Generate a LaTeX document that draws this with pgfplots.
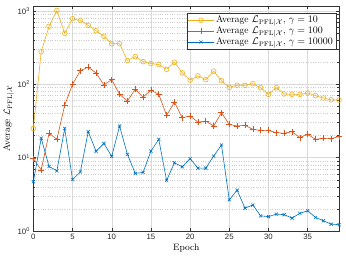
\documentclass[border=0pt]{standalone}
\usepackage{fontspec}
\usepackage{pgfplots}
\pgfplotsset{compat=1.18}
\newfontfamily\hv{Liberation Sans}
\definecolor{myyellow}{rgb}{0.929,0.694,0.125}
\definecolor{myred}{rgb}{0.850,0.325,0.098}
\definecolor{myblue}{rgb}{0,0.447,0.741}
\begin{document}
\begin{tikzpicture}
\begin{axis}[
  scale only axis, width=307pt, height=226pt,
  ymode=log, xmin=0, xmax=39, ymin=1, ymax=1170,
  xtick={0,5,...,35},
  ytick={1,10,100,1000},
  yticklabels={10\textsuperscript{0},10\textsuperscript{1},10\textsuperscript{2},10\textsuperscript{3}},
  minor x tick num=0,
  grid=both,
  major grid style={black!15, line width=0.4pt},
  minor grid style={black!20, dotted, line width=0.4pt},
  axis line style={black!80, line width=0.4pt},
  tick style={black!80, line width=0.4pt},
  tick align=inside,
  major tick length=3pt, minor tick length=1.6pt,
  /pgf/number format/assume math mode=true,
  every tick label/.append style={font=\hv\fontsize{7.8}{9}\selectfont, black!85},
  xlabel={Epoch},
  ylabel={Average $\mathcal{L}_{\mathrm{PFL}|\mathcal{X}}$},
  label style={font=\fontsize{9.3}{10.5}\selectfont},
  xlabel style={yshift=3pt},
  ylabel style={yshift=-3pt},
  legend cell align=left,
  legend style={at={(1,1)}, anchor=north east, xshift=-3pt, yshift=-7pt,
    font=\fontsize{9.6}{10.5}\selectfont, draw=black!80, line width=0.4pt,
    inner sep=1pt, row sep=-1.5pt},
  legend image code/.code={
    \draw[mark repeat=2,mark phase=2] plot coordinates {(0cm,0cm)(0.45cm,0cm)(0.9cm,0cm)};},
]
\addplot[myyellow, line width=0.6pt, mark=o, mark size=2.4pt] coordinates {
(0,25)(1,277)(2,617)(3,1016)(4,495)(5,783)(6,743)(7,635)(8,538)(9,451)
(10,358)(11,358)(12,211)(13,239)(14,204)(15,192)(16,186)(17,160)(18,200)(19,143)
(20,114)(21,130)(22,116)(23,151)(24,112)(25,91)(26,97)(27,97)(28,102)(29,90)
(30,73)(31,90)(32,74)(33,73)(34,73)(35,76)(36,70)(37,65)(38,61.5)(39,61)};
\addlegendentry{Average $\mathcal{L}_{\mathrm{PFL}|\mathcal{X}}$, $\gamma = 10$}
\addplot[myred, line width=0.6pt, mark=+, mark size=3pt] coordinates {
(0,9.7)(1,6.8)(2,21.5)(3,17.8)(4,52)(5,100)(6,154)(7,171)(8,143)(9,98)
(10,116)(11,73)(12,59)(13,86)(14,67)(15,83)(16,73)(17,37.7)(18,57)(19,35)
(20,37)(21,30.5)(22,31.5)(23,27)(24,41)(25,28.4)(26,27)(27,27.6)(28,24.3)(29,23.5)
(30,23.5)(31,21.9)(32,21.5)(33,22.6)(34,18.8)(35,20.8)(36,17.8)(37,18.4)(38,18.2)(39,19.4)};
\addlegendentry{Average $\mathcal{L}_{\mathrm{PFL}|\mathcal{X}}$, $\gamma = 100$}
\addplot[myblue, line width=0.6pt, mark=x, mark size=2.2pt] coordinates {
(0,4.7)(1,18.4)(2,7.6)(3,6.6)(4,25)(5,5.0)(6,6.4)(7,22.6)(8,12.2)(9,15.6)
(10,10.4)(11,27)(12,11.1)(13,6.1)(14,6.3)(15,12.3)(16,17.8)(17,4.9)(18,8.5)(19,7.5)
(20,9.7)(21,7.2)(22,7.2)(23,10.5)(24,14.9)(25,2.66)(26,3.6)(27,2.05)(28,2.26)(29,1.61)
(30,1.57)(31,1.70)(32,1.67)(33,1.50)(34,1.74)(35,1.89)(36,1.53)(37,1.38)(38,1.24)(39,1.22)};
\addlegendentry{Average $\mathcal{L}_{\mathrm{PFL}|\mathcal{X}}$, $\gamma = 10000$}
\end{axis}
\path (current axis.south west) ++(-32pt,-28pt);
\path (current axis.north east) ++(7pt,6pt);
\end{tikzpicture}
\end{document}
